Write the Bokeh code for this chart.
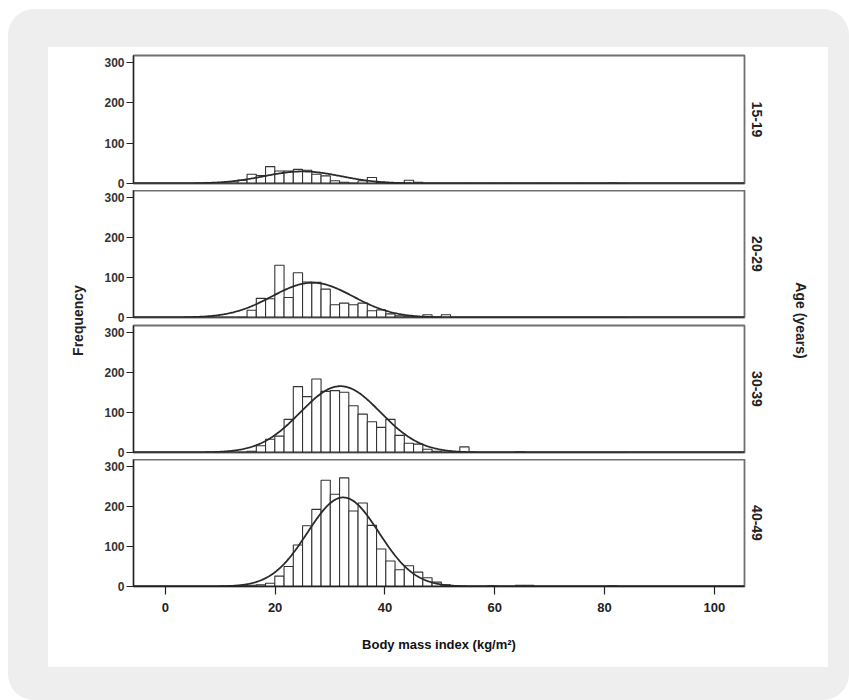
import numpy as np
from bokeh.plotting import figure
from bokeh.layouts import column, row
from bokeh.models import Spacer, Range1d, FixedTicker, Title, ColumnDataSource
from bokeh.core.properties import value
from bokeh.embed import file_html
from bokeh.resources import INLINE

# ---------------- data ----------------
groups = ["15-19", "20-29", "30-39", "40-49"]
bin_start = 13.2          # left edge of first bin (BMI)
bin_width = 1.685         # bin width (BMI)

counts_15_19 = [8, 23, 20, 42, 31, 31, 35, 33, 23, 19, 7, 3, 0, 7, 15, 3, 0, 0, 8, 3,
                0, 0, 0, 0, 0, 0, 0, 0, 0, 0, 0, 0, 0, 0, 0, 0, 0, 0, 0, 0, 1, 0]
counts_20_29 = [0, 18, 48, 47, 131, 50, 112, 89, 88, 71, 32, 36, 32, 36, 17, 19, 9, 4, 2, 0,
                7, 0, 7, 0, 0, 0, 0, 0, 0, 0, 0, 0, 0, 0, 0, 0, 0, 0, 0, 0, 0, 0]
counts_30_39 = [0, 3, 17, 33, 41, 83, 165, 140, 184, 153, 155, 151, 117, 96, 77, 63, 83, 43, 23, 21,
                8, 3, 0, 0, 14, 0, 0, 0, 0, 0, 2, 0, 0, 0, 0, 0, 0, 0, 0, 0, 0, 0]
counts_40_49 = [2, 3, 4, 8, 26, 50, 104, 152, 193, 266, 231, 272, 189, 209, 153, 94, 64, 42, 52, 36,
                22, 11, 4, 1, 0, 0, 0, 2, 0, 0, 3, 3, 0, 0, 0, 0, 0, 0, 0, 0, 2, 0]

# fitted normal curves: mean, sd, n
curve_mean = [25.0, 26.8, 31.9, 32.4]
curve_sd = [7.0, 7.4, 7.3, 6.5]
curve_n = [312, 958, 1803, 2156]

x_ticks = [0, 20, 40, 60, 80, 100]
y_ticks = [0, 100, 200, 300]

all_counts = [counts_15_19, counts_20_29, counts_30_39, counts_40_49]

# ---------------- style ----------------
SANS = "Liberation Sans"
BAR_LINE = "#333333"
FRAME = "#707070"

X0, X1 = -5.8, 105.5
Y0, Y1 = 0, 318

tops = [8, 0, 1, 0]
bottoms = [7, 7, 7, 81]
fheights = [128, 127, 127, 127]

panels = []
for i, g in enumerate(groups):
    c = np.array(all_counts[i], dtype=float)
    left = bin_start + bin_width * np.arange(len(c))
    src = ColumnDataSource(dict(left=left, right=left + bin_width, top=c))

    p = figure(frame_width=611, frame_height=fheights[i],
               min_border_left=41, min_border_right=30,
               min_border_top=tops[i], min_border_bottom=bottoms[i],
               x_range=Range1d(X0, X1), y_range=Range1d(Y0, Y1),
               output_backend="svg", toolbar_location=None,
               background_fill_color="white", border_fill_color="white")
    p.grid.visible = False
    p.outline_line_color = FRAME
    p.outline_line_width = 1.8

    p.quad(left="left", right="right", top="top", bottom=0, source=src,
           fill_color="white", line_color=BAR_LINE, line_width=1.1)

    xs = np.linspace(X0, X1, 600)
    m, s, n = curve_mean[i], curve_sd[i], curve_n[i]
    ys = n * bin_width * np.exp(-0.5 * ((xs - m) / s) ** 2) / (s * np.sqrt(2 * np.pi))
    p.line(xs, ys, line_color="#2a2a2a", line_width=1.8)

    p.line([X0, X1], [0, 0], line_color="#222222", line_width=1.8)

    ya = p.yaxis[0]
    ya.ticker = FixedTicker(ticks=y_ticks)
    ya.minor_tick_line_color = None
    ya.major_tick_in = 0
    ya.major_tick_out = 7
    ya.major_tick_line_color = "#222222"
    ya.major_tick_line_width = 1.2
    ya.axis_line_color = "#222222"
    ya.axis_line_width = 1.2
    ya.major_label_standoff = 2
    ya.major_label_text_font = SANS
    ya.major_label_text_font_style = "bold"
    ya.major_label_text_font_size = "12px"
    ya.major_label_text_color = "#333333"

    xa = p.xaxis[0]
    if i < 3:
        xa.visible = False
    else:
        xa.ticker = FixedTicker(ticks=x_ticks)
        xa.minor_tick_line_color = None
        xa.major_tick_in = 0
        xa.major_tick_out = 8
        xa.major_tick_line_color = "#222222"
        xa.major_tick_line_width = 1.2
        xa.axis_line_color = "#222222"
        xa.axis_line_width = 1.2
        xa.major_label_standoff = 8
        xa.major_label_text_font = SANS
        xa.major_label_text_font_style = "bold"
        xa.major_label_text_font_size = "13px"
        xa.major_label_text_color = "#222222"
        xa.axis_label = "Body mass index (kg/m²)"
        xa.axis_label_text_font = SANS
        xa.axis_label_text_font_style = "bold"
        xa.axis_label_text_font_size = "13px"
        xa.axis_label_text_color = "#111111"
        xa.axis_label_standoff = 22

    t = Title(text=g, align="center", text_font=SANS, text_font_style="bold",
              text_font_size="14px", text_color="#222222", standoff=14)
    p.add_layout(t, "right")
    panels.append(p)

H = 620

left_fig = figure(width=44, height=H, x_range=Range1d(0, 44), y_range=Range1d(0, H),
                  output_backend="svg", toolbar_location=None,
                  min_border=0, min_border_left=0, min_border_right=0,
                  min_border_top=0, min_border_bottom=0,
                  background_fill_color="white", border_fill_color="white")
left_fig.axis.visible = False
left_fig.grid.visible = False
left_fig.outline_line_color = None
left_fig.text(x=[29], y=[H - 273], text=["Frequency"], angle=np.pi / 2,
              text_align="center", text_baseline="middle",
              text_font=value(SANS), text_font_style="bold",
              text_font_size="14px", text_color="#222222")

right_fig = figure(width=54, height=H, x_range=Range1d(0, 54), y_range=Range1d(0, H),
                   output_backend="svg", toolbar_location=None,
                   min_border=0, min_border_left=0, min_border_right=0,
                   min_border_top=0, min_border_bottom=0,
                   background_fill_color="white", border_fill_color="white")
right_fig.axis.visible = False
right_fig.grid.visible = False
right_fig.outline_line_color = None
right_fig.text(x=[26], y=[H - 273], text=["Age (years)"], angle=-np.pi / 2,
               text_align="center", text_baseline="middle",
               text_font=value(SANS), text_font_style="bold",
               text_font_size="14px", text_color="#222222")

stack = column(*panels, spacing=0)
inner = row(left_fig, stack, right_fig, spacing=0,
            styles={"background-color": "white"})
outer = column(Spacer(height=38, width=841),
               row(Spacer(width=40, height=H), inner, Spacer(width=21, height=H), spacing=0),
               Spacer(height=33, width=841),
               spacing=0,
               styles={"background-color": "#eeeeee", "border-radius": "26px"})
page = column(Spacer(height=9, width=849),
              row(Spacer(width=8, height=691), outer, spacing=0),
              spacing=0)

open("out.html", "w").write(file_html(page, INLINE))
